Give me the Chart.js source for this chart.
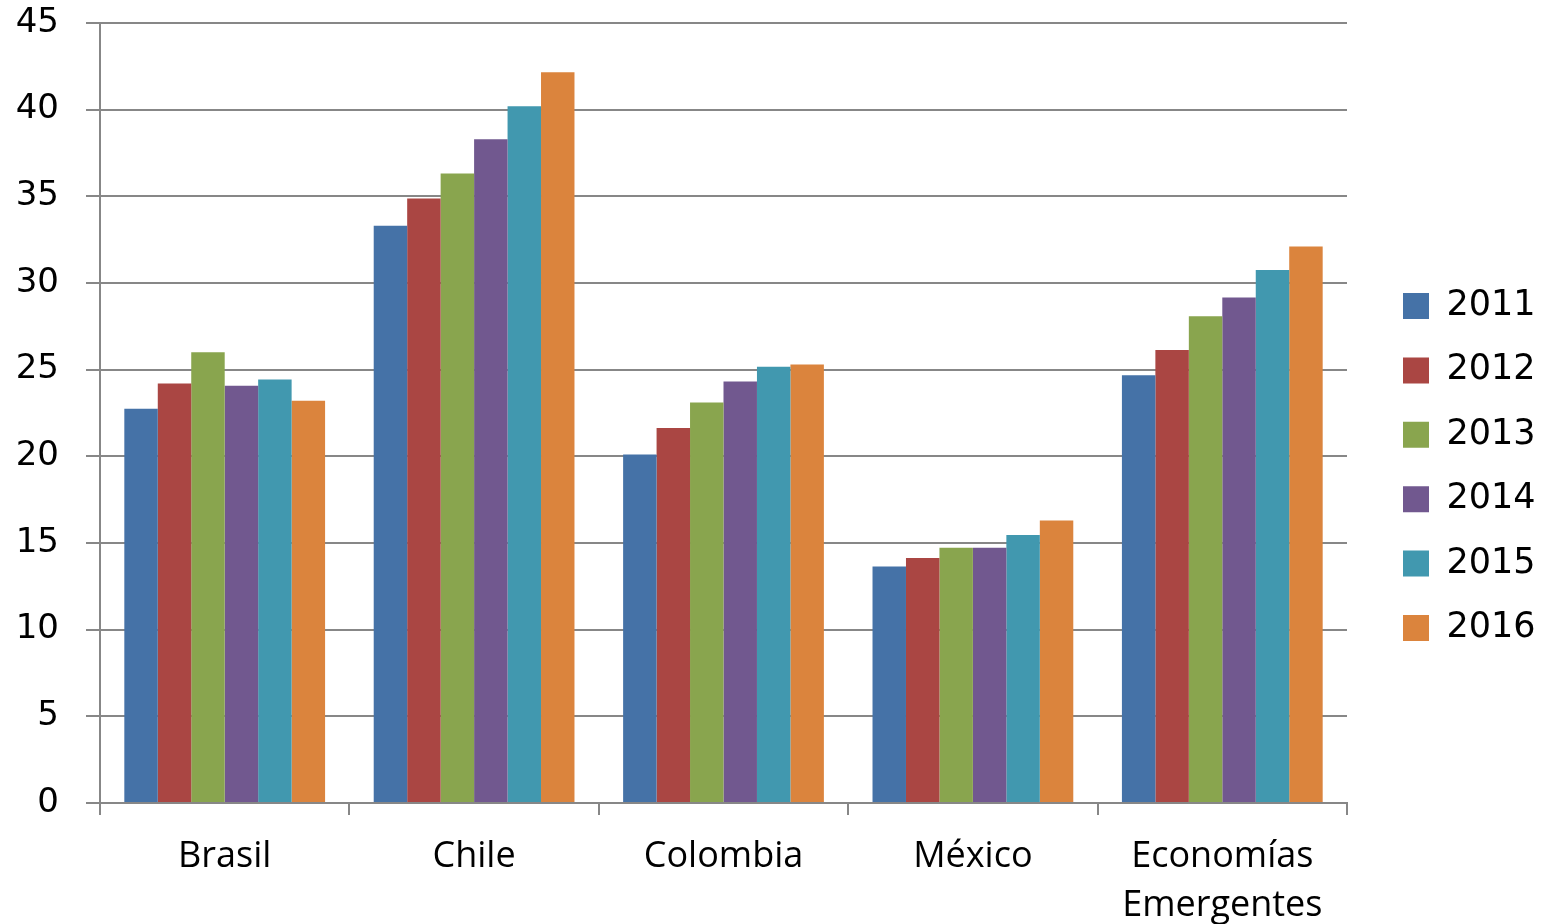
<!DOCTYPE html>
<html>
<head>
<meta charset="utf-8">
<script src="https://cdn.jsdelivr.net/npm/chart.js@4.4.1/dist/chart.umd.min.js"></script>
<style>
html,body{margin:0;padding:0;background:#fff;overflow:hidden}
#wrap{position:relative;width:1548px;height:924px}
</style>
</head>
<body>
<div id="wrap"><canvas id="c"></canvas></div>
<script>
// ---- data ----
const categories = ['Brasil', 'Chile', 'Colombia', 'México', ['Economías', 'Emergentes']];
const years = ['2011', '2012', '2013', '2014', '2015', '2016'];
const v2011 = [22.74, 33.30, 20.10, 13.64, 24.68];
const v2012 = [24.20, 34.88, 21.64, 14.13, 26.13];
const v2013 = [26.00, 36.32, 23.10, 14.72, 28.08];
const v2014 = [24.07, 38.29, 24.32, 14.72, 29.17];
const v2015 = [24.43, 40.20, 25.17, 15.46, 30.75];
const v2016 = [23.20, 42.16, 25.30, 16.30, 32.10];
const yTickValues = [0, 5, 10, 15, 20, 25, 30, 35, 40, 45];

const seriesValues = [v2011, v2012, v2013, v2014, v2015, v2016];
const seriesColors = ['#4572A7', '#AA4643', '#89A54E', '#71588F', '#4198AF', '#DB843D'];

const gridColor = '#878787';

const legendPlugin = {
  id: 'legendPlacement',
  afterInit(chart) {
    const lg = chart.legend;
    if (!lg) return;
    const origFit = lg.fit;
    lg.fit = function () {
      origFit.call(this);
      this.width = 201;
    };
  },
  afterLayout(chart) {
    const lg = chart.legend;
    if (!lg) return;
    const pad = lg.options.labels.padding;
    lg.left = 1403 - pad;
    lg.right = 1548;
    lg.top = 5;
    lg.bottom = 929;
  }
};

new Chart(document.getElementById('c'), {
  type: 'bar',
  data: {
    labels: categories,
    datasets: years.map((y, i) => ({
      label: y,
      data: seriesValues[i],
      backgroundColor: seriesColors[i],
      borderWidth: 0,
      categoryPercentage: 0.805,
      barPercentage: 1.0
    }))
  },
  options: {
    responsive: true,
    maintainAspectRatio: false,
    animation: false,
    devicePixelRatio: 1,
    layout: { padding: { top: 0, left: 0, right: 0, bottom: 0 } },
    plugins: {
      tooltip: { enabled: false },
      legend: {
        position: 'right',
        align: 'center',
        labels: {
          boxWidth: 26,
          boxHeight: 26,
          padding: 29.4,
          color: '#000',
          font: { family: 'DejaVu Sans', size: 35 }
        }
      }
    },
    scales: {
      x: {
        grid: {
          display: true,
          drawOnChartArea: false,
          drawTicks: true,
          tickLength: 12,
          offset: true,
          color: gridColor,
          lineWidth: 2
        },
        border: { display: true, color: gridColor, width: 2 },
        ticks: {
          color: '#000',
          padding: 18,
          maxRotation: 0,
          autoSkip: false,
          font: { family: 'Open Sans', size: 36, lineHeight: 1.34 }
        },
        afterFit(scale) { scale.height = 121; }
      },
      y: {
        min: 0,
        max: 45,
        afterBuildTicks(scale) { scale.ticks = yTickValues.map(v => ({ value: v })); },
        grid: {
          color: gridColor,
          lineWidth: 2,
          tickLength: 14,
          drawTicks: true
        },
        border: { display: true, color: gridColor, width: 2 },
        ticks: {
          color: '#000',
          padding: 27,
          font: { family: 'DejaVu Sans', size: 34 }
        },
        afterFit(scale) {
          scale.width = 100;
          scale.paddingTop = 23;
          scale.paddingBottom = 0;
        }
      }
    }
  },
  plugins: [legendPlugin]
});
</script>
</body>
</html>
